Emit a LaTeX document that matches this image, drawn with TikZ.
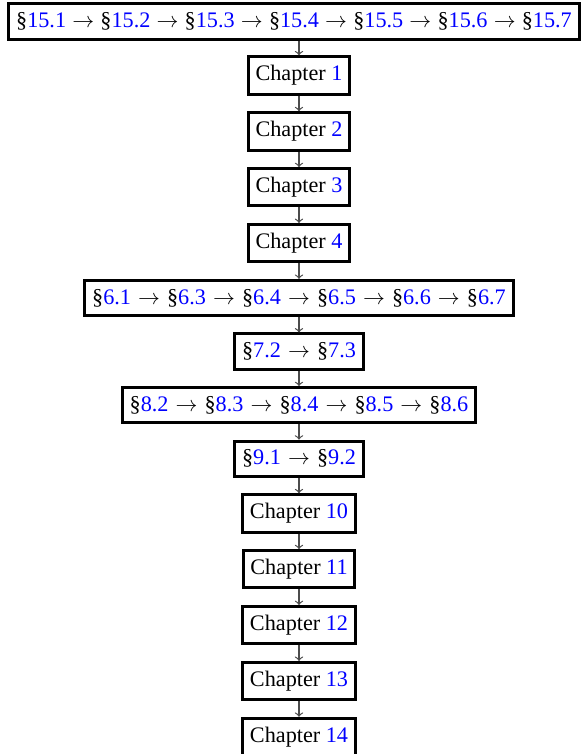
\documentclass[tikz,border=0pt]{standalone}
\usepackage{fontspec}
\setmainfont{Liberation Serif}
\usetikzlibrary{positioning}

\newcommand{\secnum}[1]{\S\textcolor{blue}{#1}}
\newcommand{\chapnum}[1]{Chapter \textcolor{blue}{#1}}
\newcommand{\nxt}[1][0.32em]{\hspace{#1}$\to$\hspace{#1}}

\begin{document}
\begin{tikzpicture}[x=0.5pt,y=-0.5pt,
  font=\fontsize{11.1}{13}\selectfont,
  node distance=7.78pt,
  box/.style={draw,line width=1.5pt,inner xsep=3.6pt,inner ysep=4.3pt},
  flow/.style={->,draw=black!70,line width=0.6pt}]
\useasboundingbox (0,0) rectangle (584,754);

% sections read first
\node[box] (top) at (294,21.5) {\secnum{15.1}\nxt[0.28em]\secnum{15.2}\nxt[0.28em]\secnum{15.3}\nxt[0.28em]\secnum{15.4}\nxt[0.28em]\secnum{15.5}\nxt[0.28em]\secnum{15.6}\nxt[0.28em]\secnum{15.7}};

% the main chain
\node[box] (c1) at (299,75.5) {\chapnum{1}};
\node[box,below=of c1] (c2) {\chapnum{2}};
\node[box,below=of c2] (c3) {\chapnum{3}};
\node[box,below=of c3] (c4) {\chapnum{4}};
\node[box,below=of c4] (s6) {\secnum{6.1}\nxt\secnum{6.3}\nxt\secnum{6.4}\nxt\secnum{6.5}\nxt\secnum{6.6}\nxt\secnum{6.7}};
\node[box,below=of s6] (s7) {\secnum{7.2}\nxt\secnum{7.3}};
\node[box,below=of s7] (s8) {\secnum{8.2}\nxt\secnum{8.3}\nxt\secnum{8.4}\nxt\secnum{8.5}\nxt\secnum{8.6}};
\node[box,below=of s8] (s9) {\secnum{9.1}\nxt\secnum{9.2}};
\node[box,below=of s9] (c10) {\chapnum{10}};
\node[box,below=of c10] (c11) {\chapnum{11}};
\node[box,below=of c11] (c12) {\chapnum{12}};
\node[box,below=of c12] (c13) {\chapnum{13}};
\node[box,below=of c13] (c14) {\chapnum{14}};

% connectors
\draw[flow] (top.south -| c1.north) -- (c1.north);
\foreach \a/\b in {c1/c2,c2/c3,c3/c4,c4/s6,s6/s7,s7/s8,s8/s9,s9/c10,c10/c11,c11/c12,c12/c13,c13/c14}
  \draw[flow] (\a) -- (\b);
\end{tikzpicture}
\end{document}
